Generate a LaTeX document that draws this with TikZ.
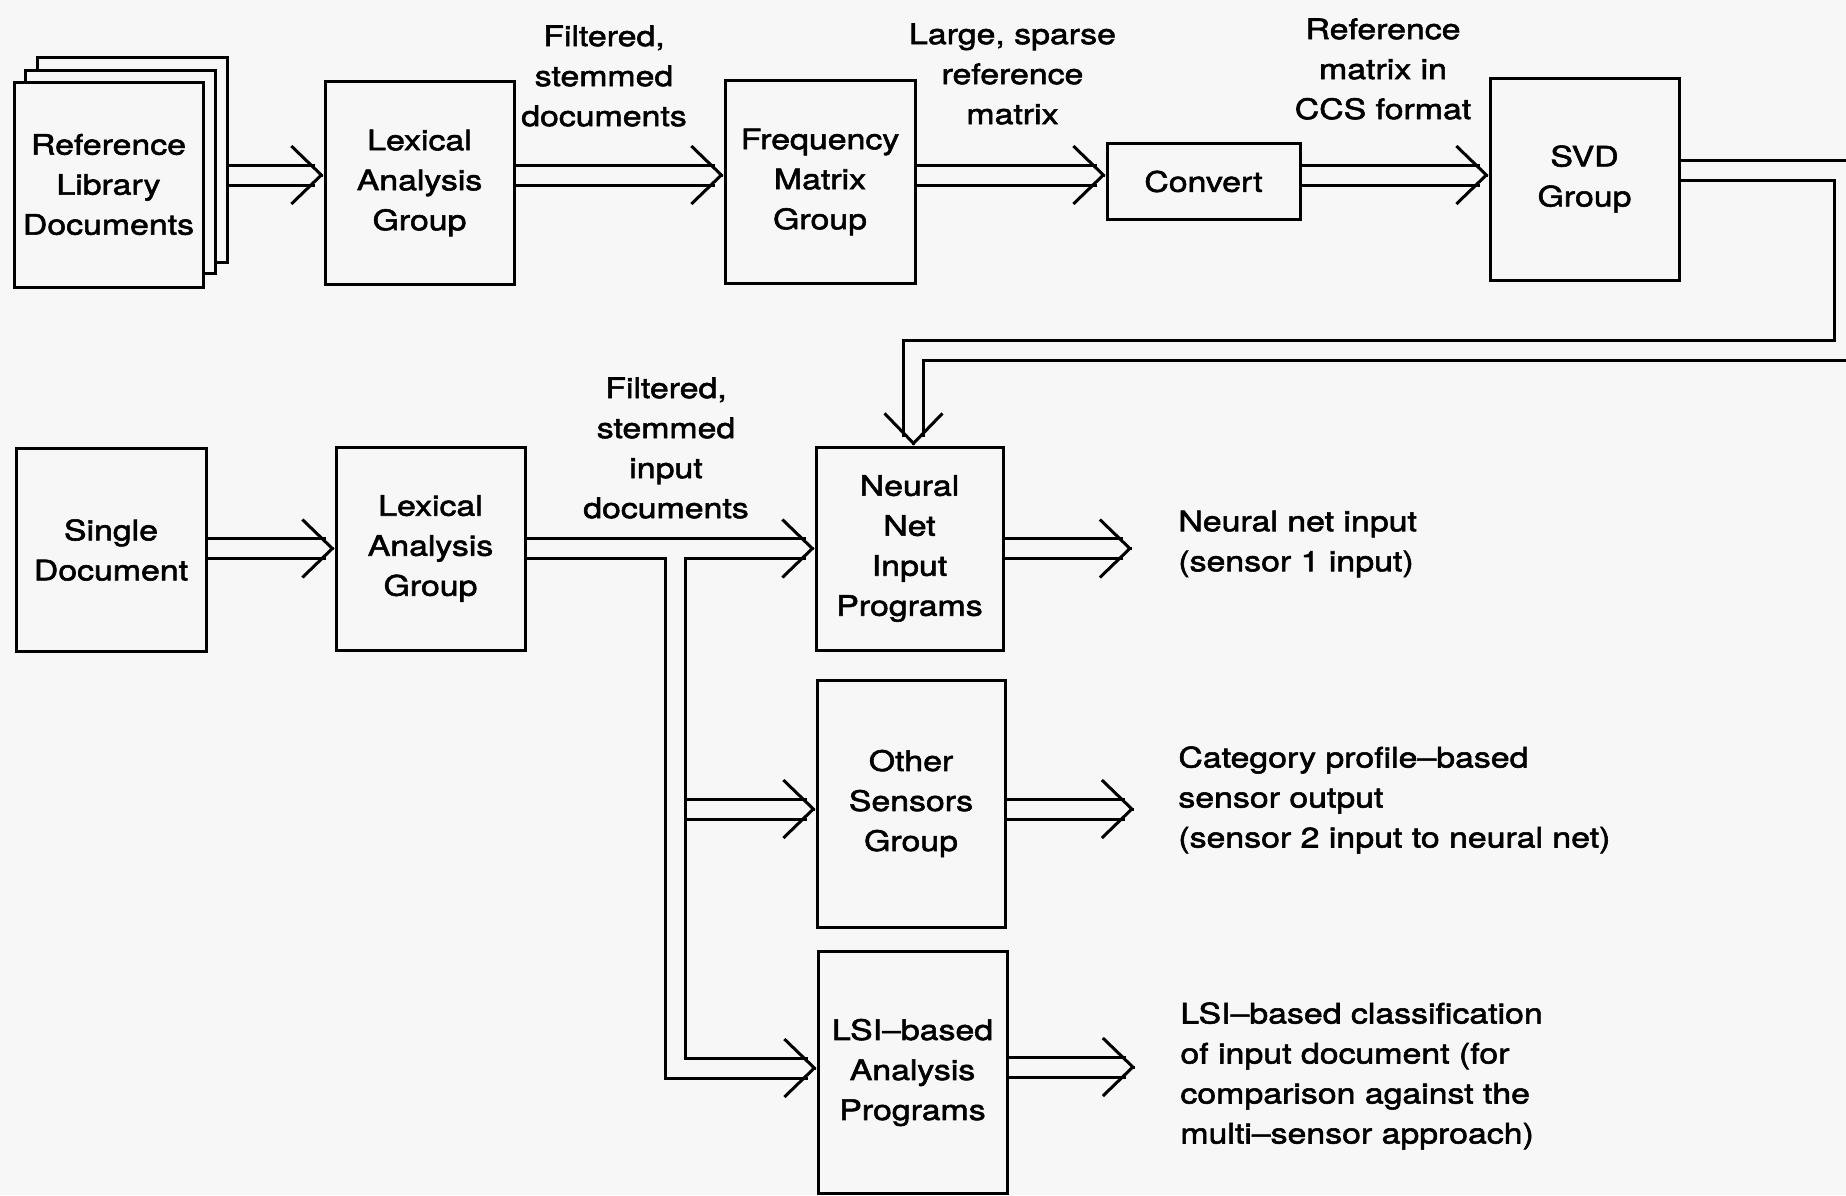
\documentclass[tikz,border=0pt]{standalone}
\usepackage{fontspec}
\setmainfont{TeX Gyre Heros}[FakeStretch=1.2,FakeBold=2]
\usetikzlibrary{arrows.meta}
\definecolor{paperGray}{HTML}{F7F7F7}
\tikzset{
  block node/.style={draw=black,fill=paperGray,line width=1.5pt,inner sep=0pt,
    align=center,minimum width=94.5pt,minimum height=101.5pt},
  double flow/.style={draw=black,line width=1.5pt,double=paperGray,
    double distance=8.5pt},
  flow tip/.style={-{Straight Barb[length=15pt,width=29pt,line width=1.5pt]},
    draw=black,line width=1.5pt},
  flow label/.style={align=center,inner sep=0pt},
  result label/.style={align=left,anchor=west,inner sep=0pt}
}

\begin{document}
\begin{tikzpicture}[x=0.5pt,y=-0.5pt,font=\fontsize{14.1pt}{20pt}\selectfont]
    \useasboundingbox (0,0) rectangle (1846,1195);
    \fill[paperGray] (0,0) rectangle (1846,1195);

    \node[block node,minimum width=95pt,minimum height=102.5pt] (refback) at (132,159.5) {};
    \node[block node,minimum width=95pt] (refmid) at (120.5,172) {};
    \node[block node,minimum height=102.5pt] (refdoc) at (108.5,184.5) {Reference\\Library\\Documents};
    \node[block node] (lex1) at (419.5,183) {Lexical\\Analysis\\Group};
    \node[block node,minimum width=95pt] (freq) at (820,182) {Frequency\\Matrix\\Group};
    \node[block node,minimum width=96.5pt,minimum height=38pt] (conv) at (1203.5,181.5) {Convert};
    \node[block node,minimum height=101pt] (svd) at (1584.5,179) {SVD\\Group};
    \node[block node,minimum width=95pt] (single) at (111,550) {Single\\Document};
    \node[block node] (lex2) at (430.5,548.5) {Lexical\\Analysis\\Group};
    \node[block node,minimum width=93.5pt] (nnin) at (909.5,548.5) {Neural\\Net\\Input\\Programs};
    \node[block node,minimum width=94pt,minimum height=123.5pt] (other) at (911,803.5) {Other\\Sensors\\Group};
    \node[block node,minimum height=121pt] (lsi) at (912.5,1072.5) {LSI--based\\Analysis\\Programs};

    \node[flow label] (lblA) at (604,76) {Filtered,\\stemmed\\documents};
    \node[flow label] (lblB) at (1012.5,74) {Large, sparse\\reference\\matrix};
    \node[flow label] (lblC) at (1383,69) {Reference\\matrix in\\CCS format};
    \node[flow label] (lblD) at (666,448) {Filtered,\\stemmed\\input\\documents};
    \node[result label] (outA) at (1178,544) {Neural net input\\(sensor 1 input)};
    \node[result label] (outB) at (1178,800) {Category profile--based\\sensor output\\(sensor 2 input to neural net)};
    \node[result label] (outC) at (1180,1076) {LSI--based classification\\of input document (for\\comparison against the\\multi--sensor approach)};

    \coordinate (toprow) at (0,175);
    \coordinate (lex1tip) at (lex1.west |- toprow);
    \coordinate (freqtip) at (freq.west |- toprow);
    \coordinate (convtip) at (conv.west |- toprow);
    \coordinate (svdtip) at (svd.west |- toprow);
    \coordinate (nntop) at ([xshift=2pt]nnin.north);
    \coordinate (split) at ([xshift=74.5pt]lex2.east);
    \coordinate (otherin) at ([yshift=-2.75pt]other.west);
    \coordinate (lsiin) at ([yshift=2.25pt]lsi.west);
    \coordinate (nnout) at (1132,548.5);
    \coordinate (otherout) at (1134,809);
    \coordinate (lsiout) at (1135,1067);

    \draw[double flow,shorten >=4.5pt] (refback.east |- toprow) -- (lex1tip);
    \draw[double flow,shorten >=4.5pt] (lex1.east |- toprow) -- (freqtip);
    \draw[double flow,shorten >=4.5pt] (freq.east |- toprow) -- (convtip);
    \draw[double flow,shorten >=4.5pt] (conv.east |- toprow) -- (svdtip);
    \draw[double flow,shorten >=4.5pt] ([yshift=4.5pt]svd.east) -| (1844,350) -| (nntop);
    \draw[double flow,shorten >=4.5pt] (single.east |- lex2.west) -- (lex2.west);
    \draw[double flow] (lex2.east) -- ([xshift=-4.5pt]nnin.west)
      (split) |- ([xshift=-4.5pt]lsiin);
    \draw[double flow,shorten >=4.5pt] ([xshift=5.75pt]split |- otherin) -- (otherin);
    \draw[double flow,shorten >=4.5pt] (nnin.east) -- (nnout);
    \draw[double flow,shorten >=4.5pt] (other.east |- otherout) -- (otherout);
    \draw[double flow,shorten >=4.5pt] (lsi.east |- lsiout) -- (lsiout);

    \foreach \tip in {lex1tip,freqtip,convtip,svdtip,lex2.west,nnin.west,otherin,lsiin,nnout,otherout,lsiout}
      \draw[flow tip] ([xshift=-0.1pt]\tip) -- (\tip);
    \draw[flow tip] ([yshift=0.1pt]nntop) -- (nntop);
\end{tikzpicture}
\end{document}
